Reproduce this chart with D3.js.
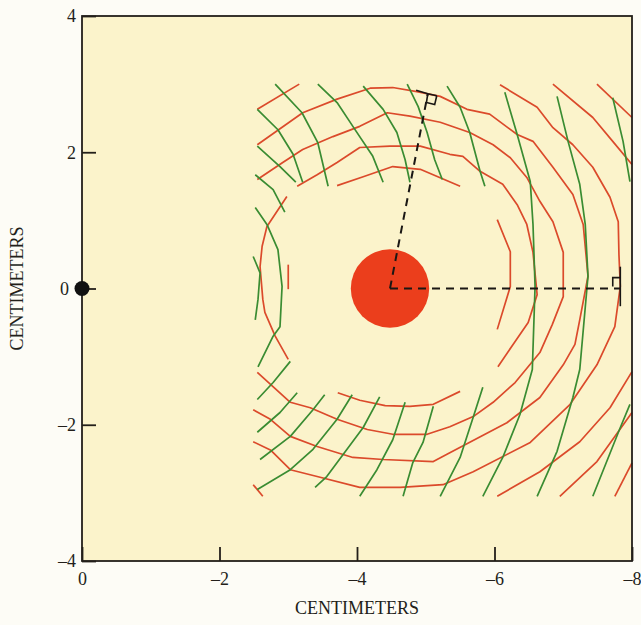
<!DOCTYPE html>
<html>
<head>
<meta charset="utf-8">
<script src="https://cdn.jsdelivr.net/npm/d3@7"></script>
<style>
  body { margin: 0; background: #fdfcf6; }
  svg { display: block; }
  text { font-family: "Liberation Serif", "DejaVu Serif", serif; fill: #231f1a; }
</style>
</head>
<body>
<svg id="chart" width="641" height="625"></svg>
<script>
'use strict';

//Tick values (cm).
const xTicks = [0, -2, -4, -6, -8];
const yTicks = [4, 2, 0, -2, -4];

//Source (red disc) and the reference electrode (black dot), in cm.
const source = [-4.48, 0, 0.57]; //x, y, radius
const electrode = [0, 0];

//Red lines (isochrones), each a polyline of [x, y] in cm.
const redLines = [
	[[-2.55, 2.63], [-3.16, 3.00]],
	[[-6.08, 2.99], [-6.62, 2.66], [-6.85, 2.36], [-7.14, 2.11], [-7.43, 1.78], [-7.68, 1.34], [-7.80, 0.98], [-7.81, 0.50], [-7.83, 0.03], [-7.75, -0.56], [-7.49, -1.12], [-7.10, -1.70], [-6.52, -2.26], [-5.69, -2.69], [-5.25, -2.88], [-4.63, -2.92], [-4.04, -2.92], [-3.42, -2.76], [-3.03, -2.66], [-2.74, -2.37], [-2.49, -2.25]],
	[[-2.55, 2.11], [-3.21, 2.58], [-3.71, 2.78], [-4.19, 2.94], [-4.52, 2.95], [-4.87, 2.89], [-5.21, 2.82], [-5.60, 2.63], [-5.93, 2.56], [-6.33, 2.26], [-6.56, 2.16], [-6.85, 1.78], [-7.14, 1.38], [-7.29, 0.94], [-7.36, 0.18], [-7.24, -0.46], [-7.17, -0.82], [-7.00, -1.12], [-6.66, -1.60], [-6.18, -1.97], [-5.35, -2.41], [-5.11, -2.54], [-4.38, -2.51], [-3.94, -2.48], [-3.42, -2.32], [-3.03, -2.17], [-2.74, -1.92], [-2.49, -1.78]],
	[[-2.55, 1.60], [-2.92, 1.85], [-3.21, 2.04], [-3.65, 2.23], [-4.04, 2.38], [-4.44, 2.58], [-4.77, 2.53], [-5.21, 2.44], [-5.64, 2.29], [-5.98, 2.11], [-6.23, 1.92], [-6.47, 1.63], [-6.66, 1.28], [-6.85, 0.98], [-7.00, 0.53], [-7.00, -0.12], [-6.84, -0.53], [-6.66, -0.94], [-6.30, -1.38], [-5.98, -1.67], [-5.69, -1.88], [-5.35, -2.03], [-5.02, -2.14], [-4.52, -2.14], [-4.15, -2.07], [-3.71, -1.92], [-3.32, -1.75], [-3.03, -1.67], [-2.55, -1.23]],
	[[-3.13, 1.50], [-3.42, 1.67], [-3.71, 1.85], [-4.04, 2.07], [-4.48, 2.09], [-4.92, 2.09], [-5.35, 1.97], [-5.54, 1.94], [-5.79, 1.72], [-6.12, 1.53], [-6.33, 1.23], [-6.47, 0.94], [-6.56, 0.53], [-6.62, -0.09], [-6.49, -0.50], [-6.25, -0.85], [-6.05, -1.15]],
	[[-3.71, 1.51], [-4.09, 1.64], [-4.52, 1.79], [-4.92, 1.75], [-5.50, 1.50]],
	[[-6.04, 1.01], [-6.23, 0.54], [-6.23, 0.03], [-6.04, -0.60]],
	[[-3.72, -1.53], [-4.04, -1.64], [-4.41, -1.72], [-4.77, -1.73], [-5.11, -1.70], [-5.50, -1.51]],
	[[-2.98, 1.35], [-2.69, 0.91], [-2.62, 0.62], [-2.59, 0.32], [-2.63, -0.16], [-2.66, -0.35], [-2.81, -0.70], [-3.00, -1.04]],
	[[-3.00, 0.35], [-3.00, -0.01]],
	[[-2.49, -2.88], [-2.63, -3.05]],
	[[-6.85, 3.00], [-7.43, 2.51], [-7.72, 2.16], [-8.00, 1.82]],
	[[-8.00, -1.22], [-7.68, -1.75], [-7.24, -2.25], [-6.66, -2.69], [-6.04, -3.05]],
	[[-7.49, 3.00], [-8.00, 2.51]],
	[[-8.00, -1.82], [-7.49, -2.54], [-6.95, -3.05]],
	[[-8.00, -2.56], [-7.75, -3.05]]
];

//Green lines, roughly perpendicular to the red ones.
const greenLines = [
	[[-2.81, 3.00], [-3.20, 2.58], [-3.43, 2.14], [-3.58, 1.50]],
	[[-3.43, 3.00], [-3.71, 2.73], [-3.94, 2.38], [-4.23, 1.94], [-4.38, 1.56]],
	[[-4.09, 2.97], [-4.38, 2.63], [-4.58, 2.29], [-4.70, 1.89], [-4.77, 1.56]],
	[[-4.73, 3.00], [-4.89, 2.67], [-5.02, 2.29], [-5.13, 1.89], [-5.24, 1.60]],
	[[-5.31, 2.97], [-5.50, 2.66], [-5.64, 2.29], [-5.79, 1.72], [-5.86, 1.50]],
	[[-6.15, 2.88], [-6.33, 2.26], [-6.52, 1.57], [-6.56, 0.94], [-6.59, 0.03], [-6.55, -1.19], [-6.37, -1.85], [-6.12, -2.48], [-5.83, -3.05]],
	[[-6.91, 2.82], [-7.07, 2.16], [-7.24, 1.53], [-7.32, 0.94], [-7.36, 0.18], [-7.24, -1.19], [-7.14, -1.60], [-6.91, -2.39], [-6.62, -3.05]],
	[[-7.72, 2.80], [-7.87, 2.16], [-7.97, 1.57]],
	[[-7.97, -1.70], [-7.83, -2.04], [-7.43, -3.05]],
	[[-5.83, -1.45], [-5.69, -1.89], [-5.50, -2.48], [-5.21, -3.05]],
	[[-2.55, 2.63], [-2.85, 2.33], [-3.07, 1.97], [-3.21, 1.56]],
	[[-2.55, 2.09], [-2.88, 1.79], [-3.11, 1.56]],
	[[-2.52, 1.67], [-2.78, 1.45], [-2.95, 1.12]],
	[[-2.52, 1.19], [-2.69, 0.94], [-2.85, 0.57], [-2.91, 0.03], [-2.88, -0.56], [-2.78, -0.70], [-2.56, -1.15]],
	[[-2.49, 0.47], [-2.59, 0.23], [-2.56, -0.16], [-2.52, -0.46]],
	[[-3.03, -1.07], [-2.78, -1.38], [-2.55, -1.63]],
	[[-3.13, -1.53], [-2.88, -1.82], [-2.55, -2.11]],
	[[-3.53, -1.56], [-3.36, -1.78], [-3.03, -2.17], [-2.59, -2.51]],
	[[-3.93, -1.56], [-3.71, -1.92], [-3.36, -2.36], [-3.03, -2.66], [-2.55, -2.95]],
	[[-4.33, -1.59], [-4.09, -2.04], [-3.56, -2.76], [-3.39, -2.92]],
	[[-4.70, -1.67], [-4.52, -2.22], [-4.29, -2.66], [-4.04, -3.05]],
	[[-5.11, -1.73], [-4.96, -2.26], [-4.81, -2.56], [-4.67, -3.05]]
];

//Dashed rays from the source, and the tangent / right-angle marks at their ends.
const rays = [
	[[-4.48, 0], [-7.83, 0]],
	[[-4.48, 0], [-5.03, 2.86]]
];
const rightAngles = [
	[[-4.86, 2.91], [-5.03, 2.86], [-5.16, 2.83]],
	[[-5.03, 2.86], [-5.01, 2.73], [-5.13, 2.70], [-5.16, 2.83]],
	[[-7.83, 0.32], [-7.83, -0.26]],
	[[-7.72, 0.03], [-7.72, 0.16], [-7.83, 0.16]]
];

const svg = d3.select('#chart');
const margin = {top: 16, right: 9, bottom: 64, left: 82};
const width = +svg.attr('width');
const height = +svg.attr('height');
const innerWidth = width - margin.left - margin.right;
const innerHeight = height - margin.top - margin.bottom;

//x runs from 0 on the left to -8 on the right.
const xScale = d3.scaleLinear().domain([0, -8]).range([0, innerWidth]);
const yScale = d3.scaleLinear().domain([4, -4]).range([0, innerHeight]);

const g = svg.append('g').attr('transform', `translate(${margin.left},${margin.top})`);

g.append('rect')
	.attr('width', innerWidth)
	.attr('height', innerHeight)
	.attr('fill', '#fbf3cb');

const line = d3.line().x((d) => xScale(d[0])).y((d) => yScale(d[1]));

g.selectAll('path.red')
	.data(redLines)
	.enter()
	.append('path')
	.attr('class', 'red')
	.attr('d', line)
	.attr('fill', 'none')
	.attr('stroke', '#db4a2b')
	.attr('stroke-width', 1.7)
	.attr('stroke-linejoin', 'round');

g.selectAll('path.green')
	.data(greenLines)
	.enter()
	.append('path')
	.attr('class', 'green')
	.attr('d', line)
	.attr('fill', 'none')
	.attr('stroke', '#3a8c32')
	.attr('stroke-width', 1.7)
	.attr('stroke-linejoin', 'round');

//Source disc.
g.append('circle')
	.attr('cx', xScale(source[0]))
	.attr('cy', yScale(source[1]))
	.attr('r', Math.abs(xScale(source[2]) - xScale(0)))
	.attr('fill', '#eb3e1c');

g.selectAll('path.ray')
	.data(rays)
	.enter()
	.append('path')
	.attr('class', 'ray')
	.attr('d', line)
	.attr('fill', 'none')
	.attr('stroke', '#1a1714')
	.attr('stroke-width', 2)
	.attr('stroke-dasharray', '8,6');

g.selectAll('path.mark')
	.data(rightAngles)
	.enter()
	.append('path')
	.attr('class', 'mark')
	.attr('d', line)
	.attr('fill', 'none')
	.attr('stroke', '#1a1714')
	.attr('stroke-width', 1.6);

//Axes: ticks point inwards.
const yAxis = d3.axisLeft(yScale).tickValues(yTicks).tickSize(-14).tickSizeOuter(0).tickPadding(6)
	.tickFormat((d) => d < 0 ? '\u2013' + Math.abs(d) : d);
const yG = g.append('g').call(yAxis);
yG.select('.domain').remove();
yG.selectAll('text').style('font-size', '18px').attr('dy', '0.33em');
yG.selectAll('.tick').filter((d) => d === 0).select('text').attr('x', -13);

const xAxis = d3.axisBottom(xScale).tickValues(xTicks).tickSize(-14).tickSizeOuter(0).tickPadding(11)
	.tickFormat((d) => d < 0 ? '\u2013' + Math.abs(d) : d);
const xG = g.append('g').attr('transform', `translate(0,${innerHeight})`).call(xAxis);
xG.select('.domain').remove();
xG.selectAll('text').style('font-size', '18px');
g.selectAll('.tick line').attr('stroke', '#231f1a').attr('stroke-width', 1.8);

//Frame.
g.append('rect')
	.attr('width', innerWidth)
	.attr('height', innerHeight)
	.attr('fill', 'none')
	.attr('stroke', '#231f1a')
	.attr('stroke-width', 1.8);

//Electrode at the origin.
g.append('circle')
	.attr('cx', xScale(electrode[0]))
	.attr('cy', yScale(electrode[1]))
	.attr('r', 7.5)
	.attr('fill', '#111');

//Axis titles.
svg.append('text')
	.attr('x', margin.left + innerWidth / 2)
	.attr('y', 614)
	.attr('text-anchor', 'middle')
	.style('font-size', '18px')
	.text('CENTIMETERS');
svg.append('text')
	.attr('transform', `translate(23,${margin.top + yScale(0)}) rotate(-90)`)
	.attr('text-anchor', 'middle')
	.style('font-size', '18px')
	.text('CENTIMETERS');
</script>
</body>
</html>
